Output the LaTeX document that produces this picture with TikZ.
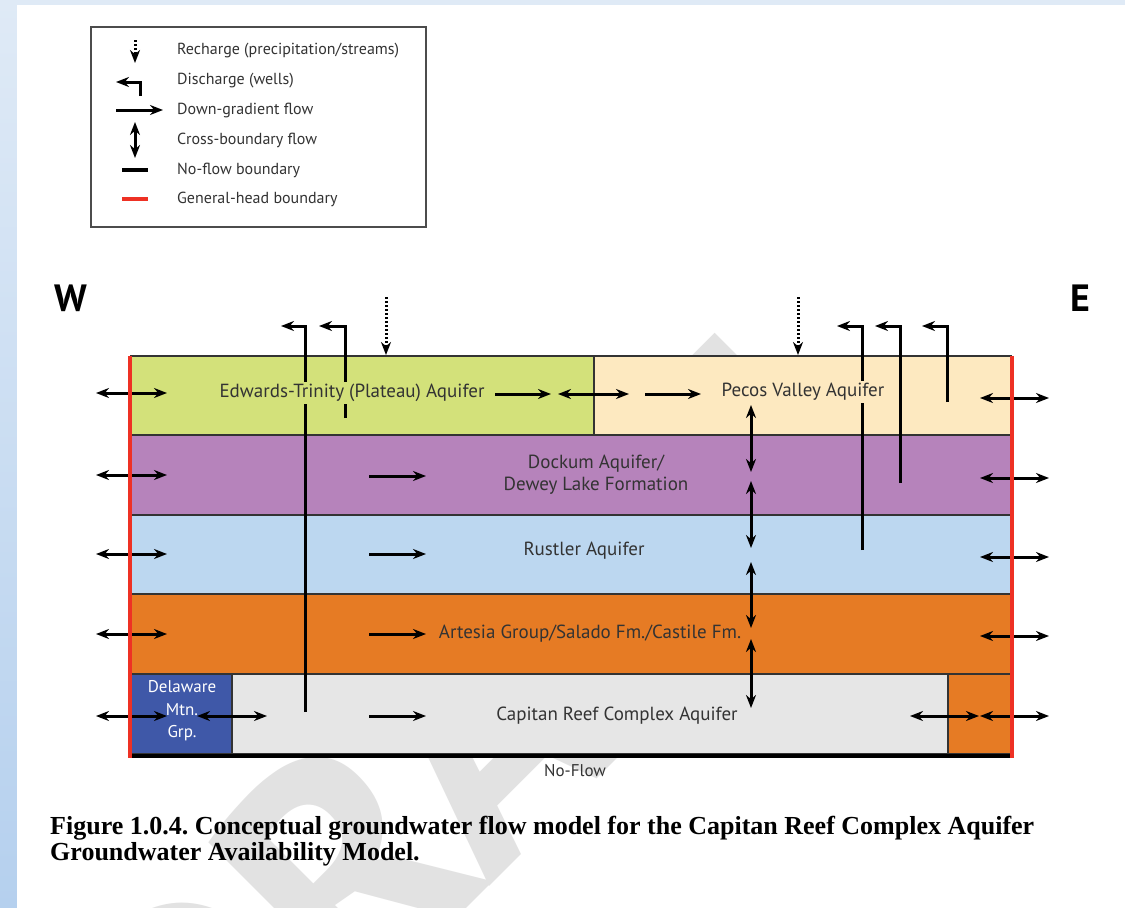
\documentclass[tikz,border=0pt]{standalone}
\usepackage{fontspec}
\setmainfont{PT Sans}
\newfontfamily\capfont{Liberation Serif}
\usetikzlibrary{arrows.meta}
\frenchspacing
\definecolor{bgtop}{HTML}{DFEAF6}
\definecolor{bgbot}{HTML}{B5D0EE}
\definecolor{wmgray}{HTML}{E2E2E2}
\definecolor{edw}{HTML}{D3E17A}
\definecolor{pec}{HTML}{FDE9C0}
\definecolor{dock}{HTML}{B683BB}
\definecolor{rust}{HTML}{BCD7F0}
\definecolor{arte}{HTML}{E67B24}
\definecolor{capg}{HTML}{E6E6E6}
\definecolor{dela}{HTML}{3F58A8}
\definecolor{ghb}{HTML}{EE3124}
\definecolor{txt}{HTML}{333333}
\tikzset{
  >={Stealth[length=13pt,width=10pt]},
  layer/.style={draw=black!80, line width=1.2pt},
  flow/.style={line width=3pt, ->},
  xflow/.style={line width=3pt, <->},
  wellline/.style={line width=3pt, ->},
  rech/.style={line width=3pt, dash pattern=on 2pt off 2pt, ->},
  lbl/.style={font=\fontsize{19}{22}\selectfont, text=txt, inner sep=1pt, align=center},
  leg/.style={font=\fontsize{16}{18}\selectfont, text=txt, anchor=west, inner sep=0pt},
}
\begin{document}
\begin{tikzpicture}[x=1pt,y=-1pt]
\useasboundingbox (0,0) rectangle (1125,908);
% page background
\shade[top color=bgtop, bottom color=bgbot] (0,0) rectangle (1125,908);
\fill[bgtop] (0,0) rectangle (1125,5);
\fill[white] (17,5) rectangle (1125,908);
% watermark
\begin{scope}
\clip (17,5) rectangle (1125,908);
\node[rotate=45, text=wmgray, font=\fontsize{330}{330}\selectfont\bfseries, inner sep=0pt] (wm) at (462,750) {DRAFT};
\end{scope}

% legend
\draw[draw=black!70, line width=1.8pt] (91,27) rectangle (426,227);
\draw[rech] (135,40) -- (135,63);
\draw[wellline] (140,96) |- (116,82);
\draw[flow] (116,110) -- (163,110);
\draw[xflow] (135,122) -- (135,158);
\draw[line width=4.5pt] (122,170) -- (148,170);
\draw[ghb, line width=4.5pt] (122,199) -- (148,199);
\node[leg] (l1) at (177,51) {Recharge (precipitation/streams)};
\node[leg] (l2) at (177,81) {Discharge (wells)};
\node[leg] (l3) at (177,110) {Down-gradient flow};
\node[leg] (l4) at (177,140) {Cross-boundary flow};
\node[leg] (l5) at (177,170) {No-flow boundary};
\node[leg] (l6) at (177,199) {General-head boundary};

% W / E
\node[font=\fontsize{38}{38}\selectfont\bfseries] (W) at (71,298) {W};
\node[font=\fontsize{38}{38}\selectfont\bfseries] (E) at (1080,298) {E};

% layers
\draw[layer, fill=edw] (131,356) rectangle (594,435);
\draw[layer, fill=pec] (594,356) rectangle (1011,435);
\draw[layer, fill=dock] (131,435) rectangle (1011,515);
\draw[layer, fill=rust] (131,515) rectangle (1011,594);
\draw[layer, fill=arte] (131,594) rectangle (1011,674);
\draw[layer, fill=dela] (131,674) rectangle (232,754);
\draw[layer, fill=capg] (232,674) rectangle (948,754);
\draw[layer, fill=arte] (948,674) rectangle (1011,754);

% wells (discharge)
\draw[wellline] (305,712) |- (281,326);
\draw[wellline] (345,418) |- (319,326);
\draw[wellline] (862,550) |- (837,326);
\draw[wellline] (900,483) |- (875,326);
\draw[wellline] (947,402) |- (922,326);
% recharge
\draw[rech] (386,297) -- (386,355);
\draw[rech] (798,297) -- (798,355);

% lateral boundary flows
\foreach \yy in {393,475,554,634,716}
  \draw[xflow] (96,\yy) -- (167,\yy);
\foreach \yy in {398,478,557,636,716}
  \draw[xflow] (980,\yy) -- (1049,\yy);
\draw[xflow] (197,716) -- (267,716);
\draw[xflow] (910,716) -- (979,716);

% down-gradient flows
\foreach \yy in {476,554,634,716}
  \draw[flow] (369,\yy) -- (426,\yy);
\draw[flow] (495,394) -- (551,394);
\draw[xflow] (558,394) -- (629,394);
\draw[flow] (645,394) -- (701,394);

% cross-boundary vertical flows
\draw[xflow] (751,405) -- (751,472);
\draw[xflow] (751,481) -- (751,548);
\draw[xflow] (751,562) -- (751,628);
\draw[xflow] (751,639) -- (751,708);

% labels
\node[lbl, fill=edw, inner ysep=2pt] (tedw) at (352,393) {Edwards-Trinity (Plateau) Aquifer};
\node[lbl, fill=pec, inner ysep=2pt] (tpec) at (803,392) {Pecos Valley Aquifer};
\node[lbl] (tdock) at (596,475) {Dockum Aquifer/\\Dewey Lake Formation};
\node[lbl] (trust) at (584,551) {Rustler Aquifer};
\node[lbl] (tarte) at (590,634) {Artesia Group/Salado Fm./Castile Fm.};
\node[lbl] (tcap) at (617,716) {Capitan Reef Complex Aquifer};
\node[lbl, text=white, font=\fontsize{17}{22.5}\selectfont] (tdel) at (182,711) {Delaware\\Mtn.\\Grp.};

% boundaries
\draw[line width=4pt] (131,755.5) -- (1011,755.5);
\draw[ghb, line width=3.5pt] (130,356) -- (130,757.5);
\draw[ghb, line width=3.5pt] (1012,356) -- (1012,758);
\node[font=\fontsize{17}{19}\selectfont, text=txt] (nf) at (575,771) {No-Flow};

% caption
\node[anchor=west, font=\capfont\bfseries\fontsize{26}{26}\selectfont, align=left, inner sep=0pt] (cap) at (50,841)
  {Figure 1.0.4. Conceptual groundwater flow model for the Capitan Reef Complex Aquifer\\Groundwater Availability Model.};
\end{tikzpicture}
\end{document}
